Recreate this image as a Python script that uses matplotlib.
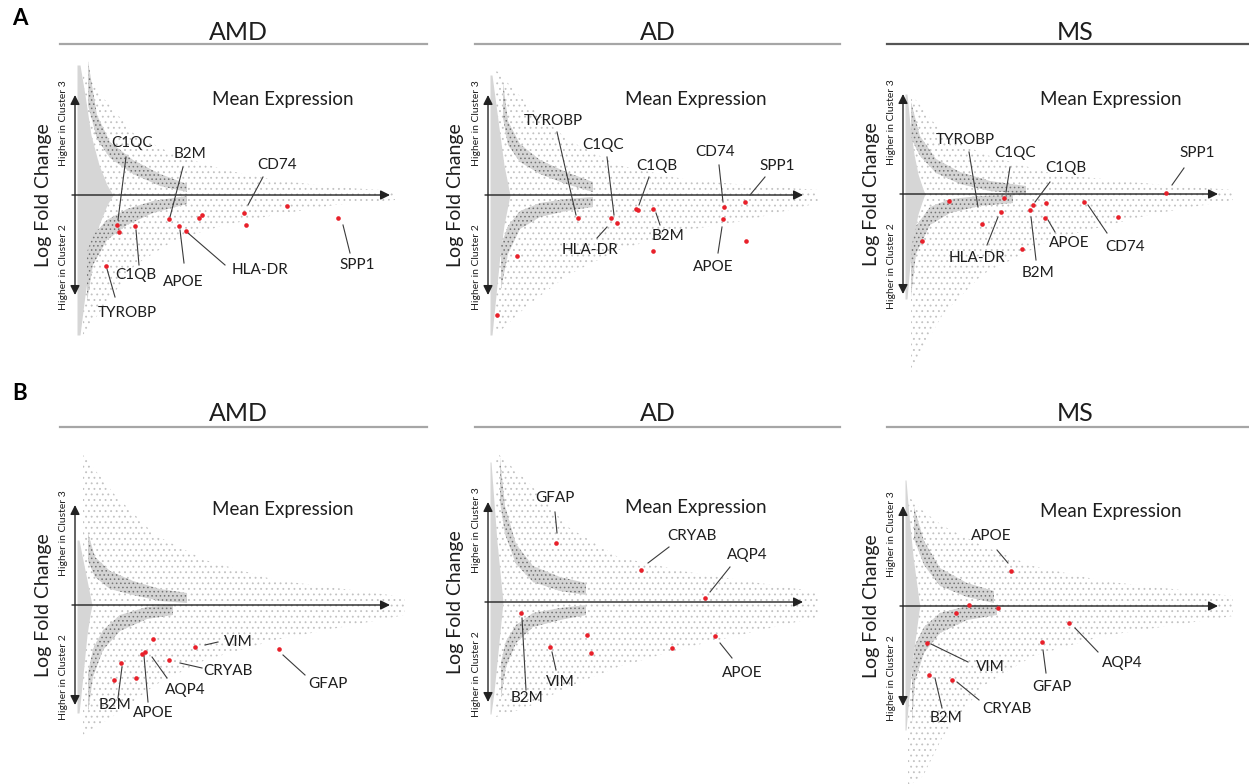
import numpy as np
import matplotlib

matplotlib.use('agg')
import matplotlib.pyplot as plt

plt.rcParams['font.family'] = ['Lato', 'DejaVu Sans']
plt.rcParams['hatch.linewidth'] = 0.6

# All values are in arbitrary plot units:
# x = mean expression (axis runs 0..315), y = log fold change (axis +-100).

# ---- A / AMD ----
a_amd_red_x = [42, 44, 60, 31, 94, 104, 111, 124, 127, 169, 171, 212, 263]
a_amd_red_y = [-30, -37, -31, -71, -24, -31, -36, -23, -20, -18, -30, -11, -23]
a_amd_wedge_y = [130, 100, 60, 30, 10, 0, -10, -30, -60, -100, -140]
a_amd_wedge_x = [5, 10, 16, 24, 32, 38, 32, 24, 16, 10, 5]
a_amd_up_x = [13, 22, 35, 58, 85, 112]
a_amd_up_y = [112, 68, 45, 28, 15, 7]
a_amd_up_w = [22, 12, 8, 7, 6, 4]
a_amd_lo_x = [12, 18, 32, 52, 78, 112]
a_amd_lo_y = [-82, -55, -35, -22, -12, -5]
a_amd_lo_w = [25, 15, 10, 8, 6, 4]
a_amd_halo_x = [8, 30, 60, 100, 150, 200, 260, 320]
a_amd_halo_top = [125, 95, 60, 40, 25, 15, 8, 4]
a_amd_halo_bot = [-140, -110, -70, -45, -30, -20, -10, -5]

# ---- A / AD ----
a_ad_red_x = [90, 123, 129, 148, 150, 165, 165, 236, 235, 257, 258, 29, 9]
a_ad_red_y = [-23, -23, -28, -14, -15, -14, -56, -12, -24, -7, -46, -61, -120]
a_ad_wedge_y = [120, 90, 60, 30, 10, 0, -10, -30, -60, -100, -140]
a_ad_wedge_x = [4, 8, 12, 16, 20, 22, 20, 16, 12, 8, 4]
a_ad_up_x = [15, 20, 32, 52, 78, 105]
a_ad_up_y = [95, 62, 42, 28, 17, 8]
a_ad_up_w = [18, 12, 9, 7, 6, 5]
a_ad_lo_x = [13, 20, 32, 52, 78, 105]
a_ad_lo_y = [-72, -45, -25, -15, -10, -7]
a_ad_lo_w = [22, 14, 9, 7, 6, 5]
a_ad_halo_x = [8, 40, 80, 130, 200, 260, 330]
a_ad_halo_top = [125, 90, 55, 30, 15, 10, 5]
a_ad_halo_bot = [-140, -110, -80, -55, -35, -25, -8]

# ---- A / MS ----
a_ms_red_x = [46, 19, 79, 98, 101, 130, 127, 143, 142, 119, 181, 215, 263]
a_ms_red_y = [-7, -47, -30, -18, -4, -11, -16, -9, -24, -55, -8, -23, 1]
a_ms_wedge_y = [100, 70, 40, 20, 5, 0, -5, -20, -40, -70, -105]
a_ms_wedge_x = [4, 7, 11, 15, 20, 22, 20, 15, 11, 7, 4]
a_ms_up_x = [8, 17, 33, 57, 87, 123]
a_ms_up_y = [74, 48, 28, 16, 8, 4]
a_ms_up_w = [18, 10, 7, 6, 5, 4]
a_ms_lo_x = [8, 13, 27, 47, 77, 110]
a_ms_lo_y = [-79, -46, -22, -12, -7, -5]
a_ms_lo_w = [24, 14, 9, 7, 5, 4]
a_ms_halo_x = [8, 40, 80, 150, 250, 330]
a_ms_halo_top = [100, 60, 40, 20, 10, 4]
a_ms_halo_bot = [-175, -120, -80, -45, -20, -6]

# ---- B / AMD ----
b_amd_red_x = [78, 120, 204, 70, 67, 94, 46, 61, 39]
b_amd_red_y = [-34, -42, -44, -47, -49, -55, -58, -73, -75]
b_amd_wedge_y = [65, 45, 25, 10, 0, -10, -30, -60, -90, -108]
b_amd_wedge_x = [4, 8, 12, 15, 17, 15, 12, 9, 6, 4]
b_amd_up_x = [13, 20, 35, 58, 85, 112]
b_amd_up_y = [58, 38, 25, 17, 10, 7]
b_amd_up_w = [14, 10, 9, 7, 6, 5]
b_amd_lo_x = [13, 18, 28, 45, 72, 98]
b_amd_lo_y = [-88, -58, -35, -18, -8, -5]
b_amd_lo_w = [20, 14, 10, 8, 6, 5]
b_amd_halo_x = [8, 40, 80, 130, 200, 330]
b_amd_halo_top = [150, 110, 70, 45, 25, 8]
b_amd_halo_bot = [-130, -110, -80, -55, -35, -10]

# ---- B / AD ----
b_ad_red_x = [68, 153, 217, 33, 99, 62, 103, 184, 227]
b_ad_red_y = [59, 32, 4, -11, -33, -45, -51, -46, -34]
b_ad_wedge_y = [140, 100, 60, 30, 10, 0, -10, -30, -60, -90, -112]
b_ad_wedge_x = [3, 6, 9, 12, 14, 15, 14, 12, 9, 6, 3]
b_ad_up_x = [12, 17, 28, 45, 72, 98]
b_ad_up_y = [122, 82, 48, 28, 18, 13]
b_ad_up_w = [22, 14, 10, 8, 7, 6]
b_ad_lo_x = [13, 18, 28, 45, 72, 98]
b_ad_lo_y = [-78, -52, -32, -18, -12, -8]
b_ad_lo_w = [18, 13, 9, 7, 6, 5]
b_ad_halo_x = [8, 40, 80, 130, 200, 330]
b_ad_halo_top = [150, 120, 75, 45, 30, 10]
b_ad_halo_bot = [-115, -105, -85, -65, -45, -15]

# ---- B / MS ----
b_ms_red_x = [108, 66, 95, 53, 166, 139, 24, 26, 49]
b_ms_red_y = [35, 1, -2, -7, -17, -36, -37, -69, -74]
b_ms_wedge_y = [126, 90, 50, 20, 5, 0, -5, -20, -50, -90, -124]
b_ms_wedge_x = [3, 6, 10, 14, 16, 17, 16, 14, 10, 6, 3]
b_ms_up_x = [11, 21, 37, 64, 91]
b_ms_up_y = [83, 53, 29, 16, 9]
b_ms_up_w = [16, 12, 9, 7, 6]
b_ms_lo_x = [9, 12, 21, 37, 64, 94]
b_ms_lo_y = [-91, -57, -34, -17, -7, -4]
b_ms_lo_w = [26, 18, 13, 10, 7, 5]
b_ms_halo_x = [5, 20, 40, 80, 130, 200, 330]
b_ms_halo_top = [110, 95, 80, 60, 40, 25, 10]
b_ms_halo_bot = [-180, -170, -130, -80, -50, -30, -10]

# gene labels: (text, label centre, leader start, leader end)
a_amd_labels = [
    ("C1QC", (57, 52), (51, 38), (43, -25)),
    ("B2M", (115, 41), (108, 28), (95, -22)),
    ("CD74", (202, 30), (188, 18), (173, -10)),
    ("C1QB", (61, -80), (64, -70), (61, -35)),
    ("APOE", (108, -87), (109, -68), (105, -35)),
    ("HLA-DR", (185, -75), (150, -70), (113, -38)),
    ("SPP1", (282, -70), (275, -58), (268, -30)),
    ("TYROBP", (52, -118), (40, -102), (32, -74)),
]
a_ad_labels = [
    ("TYROBP", (65, 74), (69, 63), (88, -20)),
    ("C1QC", (115, 50), (119, 38), (126, -20)),
    ("C1QB", (169, 29), (161, 18), (151, -10)),
    ("CD74", (227, 43), (231, 30), (235, -7)),
    ("SPP1", (289, 29), (277, 18), (262, 0)),
    ("HLA-DR", (102, -55), (109, -43), (119, -32)),
    ("B2M", (180, -41), (172, -30), (168, -18)),
    ("APOE", (225, -72), (230, -58), (234, -32)),
]
a_ms_labels = [
    ("TYROBP", (62, 54), (66, 42), (75, -13)),
    ("C1QC", (112, 41), (107, 27), (103, 2)),
    ("C1QB", (163, 26), (147, 12), (132, -8)),
    ("SPP1", (294, 41), (281, 26), (269, 9)),
    ("HLA-DR", (74, -64), (84, -51), (95, -23)),
    ("B2M", (135, -79), (133, -66), (128, -23)),
    ("APOE", (166, -49), (152, -38), (145, -26)),
    ("CD74", (222, -53), (204, -39), (185, -11)),
]
b_amd_labels = [
    ("VIM", (163, -37), (143, -37), (130, -40)),
    ("CRYAB", (153, -66), (127, -63), (105, -58)),
    ("GFAP", (253, -79), (230, -70), (208, -50)),
    ("AQP4", (110, -85), (92, -73), (77, -52)),
    ("APOE", (78, -108), (73, -97), (69, -51)),
    ("B2M", (40, -100), (43, -93), (47, -62)),
]
b_ad_labels = [
    ("GFAP", (67, 104), (67, 90), (69, 69)),
    ("CRYAB", (204, 66), (181, 55), (160, 39)),
    ("AQP4", (259, 47), (242, 35), (222, 10)),
    ("B2M", (39, -96), (38, -88), (34, -16)),
    ("VIM", (72, -80), (68, -68), (64, -50)),
    ("APOE", (254, -71), (244, -56), (232, -41)),
]
b_ms_labels = [
    ("APOE", (88, 70), (94, 56), (105, 43)),
    ("VIM", (87, -61), (65, -56), (28, -38)),
    ("AQP4", (219, -57), (195, -46), (172, -22)),
    ("GFAP", (149, -81), (143, -67), (140, -44)),
    ("CRYAB", (104, -103), (76, -94), (54, -76)),
    ("B2M", (43, -112), (39, -102), (32, -72)),
]

W, H = 1249, 784
TXT = '#1e1e1e'


def draw_panel(ax, wedge_y, wedge_x, up_x, up_y, up_w, lo_x, lo_y, lo_w,
               halo_x, halo_top, halo_bot, red_x, red_y, labels):
    up_x, up_y, up_w = map(np.asarray, (up_x, up_y, up_w))
    lo_x, lo_y, lo_w = map(np.asarray, (lo_x, lo_y, lo_w))

    # sparse cloud of genes
    ax.fill_between(halo_x, halo_bot, halo_top, facecolor='white',
                    edgecolor='#c2c2c2', hatch='...', linewidth=0, zorder=1)
    # saturated region right at the y axis
    ax.fill_betweenx(wedge_y, 2, wedge_x, color='#d6d6d6', linewidth=0, zorder=2)
    # the two dense horns
    for bx, by, bw in ((up_x, up_y, up_w), (lo_x, lo_y, lo_w)):
        ax.fill_between(bx, by - bw, by + bw, facecolor='#d4d4d4',
                        edgecolor='#747474', hatch='....', linewidth=0,
                        zorder=3)

    # axes arrows
    ax.annotate('', xy=(315, 0), xytext=(-3, 0),
                arrowprops=dict(arrowstyle='-|>', color='#222222', lw=1.0,
                                mutation_scale=14, shrinkA=0, shrinkB=0),
                zorder=4)
    ax.annotate('', xy=(0, 100), xytext=(0, -100),
                arrowprops=dict(arrowstyle='<|-|>', color='#222222', lw=1.0,
                                mutation_scale=14, shrinkA=0, shrinkB=0),
                zorder=4)

    ax.scatter(red_x, red_y, s=11, color='#e8202a', linewidth=0, zorder=6)

    for text, (tx, ty), (x0, y0), (x1, y1) in labels:
        ax.plot([x0, x1], [y0, y1], color='#3a3a3a', lw=0.8, zorder=5)
        ax.text(tx, ty, text, ha='center', va='center', fontsize=11,
                color=TXT, zorder=7)

    ax.text(208, 95, 'Mean Expression', ha='center', va='center',
            fontsize=13.5, color=TXT)
    ax.text(-32, 0, 'Log Fold Change', rotation=90, ha='center',
            va='center', fontsize=14, color=TXT)
    ax.text(-11, 72, 'Higher in Cluster 3', rotation=90, ha='center',
            va='center', fontsize=7.5, color=TXT)
    ax.text(-11, -72, 'Higher in Cluster 2', rotation=90, ha='center',
            va='center', fontsize=7.5, color=TXT)

    ax.set_xlim(-70, 345)
    ax.set_ylim(-180, 160)
    ax.axis('off')


fig = plt.figure(figsize=(W / 100, H / 100), dpi=100)

# frame for panel letters, titles and title rules (pixel coordinates)
top = fig.add_axes([0, 0, 1, 1])
top.set_xlim(0, W)
top.set_ylim(H, 0)
top.axis('off')
top.text(20, 18, 'A', fontsize=16, fontweight='bold', ha='center', va='center')
top.text(20, 393, 'B', fontsize=16, fontweight='bold', ha='center', va='center')
titles = ['AMD', 'AD', 'MS']
title_x = [238, 658, 1075]
rule_x = [(60, 427), (475, 840), (887, 1249)]
for row_y, rule_y in ((32, 44), (413, 427)):
    for i, name in enumerate(titles):
        top.text(title_x[i], row_y, name, fontsize=18, ha='center',
                 va='center', color=TXT)
        col = '#555555' if (row_y == 32 and name == 'MS') else '#a6a6a6'
        top.plot(rule_x[i], [rule_y, rule_y], color=col, lw=1.6)

origins = [(75, 195), (488, 195), (903, 194), (75, 605), (488, 602), (903, 606)]
panels = [
    (a_amd_wedge_y, a_amd_wedge_x, a_amd_up_x, a_amd_up_y, a_amd_up_w,
     a_amd_lo_x, a_amd_lo_y, a_amd_lo_w, a_amd_halo_x, a_amd_halo_top,
     a_amd_halo_bot, a_amd_red_x, a_amd_red_y, a_amd_labels),
    (a_ad_wedge_y, a_ad_wedge_x, a_ad_up_x, a_ad_up_y, a_ad_up_w,
     a_ad_lo_x, a_ad_lo_y, a_ad_lo_w, a_ad_halo_x, a_ad_halo_top,
     a_ad_halo_bot, a_ad_red_x, a_ad_red_y, a_ad_labels),
    (a_ms_wedge_y, a_ms_wedge_x, a_ms_up_x, a_ms_up_y, a_ms_up_w,
     a_ms_lo_x, a_ms_lo_y, a_ms_lo_w, a_ms_halo_x, a_ms_halo_top,
     a_ms_halo_bot, a_ms_red_x, a_ms_red_y, a_ms_labels),
    (b_amd_wedge_y, b_amd_wedge_x, b_amd_up_x, b_amd_up_y, b_amd_up_w,
     b_amd_lo_x, b_amd_lo_y, b_amd_lo_w, b_amd_halo_x, b_amd_halo_top,
     b_amd_halo_bot, b_amd_red_x, b_amd_red_y, b_amd_labels),
    (b_ad_wedge_y, b_ad_wedge_x, b_ad_up_x, b_ad_up_y, b_ad_up_w,
     b_ad_lo_x, b_ad_lo_y, b_ad_lo_w, b_ad_halo_x, b_ad_halo_top,
     b_ad_halo_bot, b_ad_red_x, b_ad_red_y, b_ad_labels),
    (b_ms_wedge_y, b_ms_wedge_x, b_ms_up_x, b_ms_up_y, b_ms_up_w,
     b_ms_lo_x, b_ms_lo_y, b_ms_lo_w, b_ms_halo_x, b_ms_halo_top,
     b_ms_halo_bot, b_ms_red_x, b_ms_red_y, b_ms_labels),
]

for (ox, oy), args in zip(origins, panels):
    # axes box: 70 px left / 345 px right of the origin, 160 up / 180 down
    rect = [(ox - 70) / W, (H - (oy + 180)) / H, 415 / W, 340 / H]
    ax = fig.add_axes(rect)
    draw_panel(ax, *args)

fig.savefig('out.png', dpi=100)
